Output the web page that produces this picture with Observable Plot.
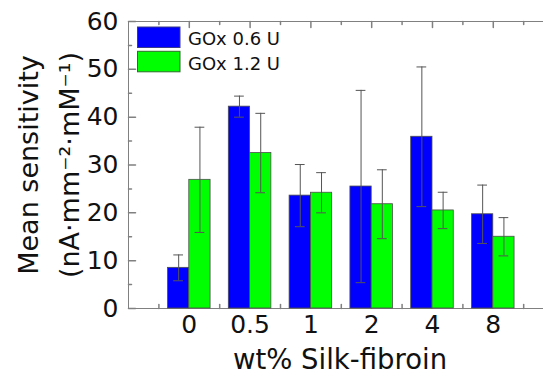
<!DOCTYPE html>
<html>
<head>
<meta charset="utf-8">
<script src="https://cdn.jsdelivr.net/npm/d3@7"></script>
<script src="https://cdn.jsdelivr.net/npm/@observablehq/plot@0.6"></script>
<style>
  body { margin: 0; background: #fff; }
  #chart { width: 543px; height: 376px; }
</style>
</head>
<body>
<div id="chart"></div>
<script>
// Silk-fibroin loading vs. mean sensitivity for two GOx loadings
const concentrations = ["0", "0.5", "1", "2", "4", "8"];
const seriesNames = ["GOx 0.6 U", "GOx 1.2 U"];
const seriesColors = ["#0000ff", "#00ff00"];
const gox06Mean = [8.5, 42.2, 23.6, 25.5, 35.9, 19.7];
const gox06Err = [2.7, 2.2, 6.5, 20.1, 14.6, 6.1];
const gox12Mean = [26.9, 32.5, 24.2, 21.8, 20.5, 15.0];
const gox12Err = [11.0, 8.3, 4.2, 7.2, 3.8, 4.0];
const yMajorTicks = [0, 10, 20, 30, 40, 50, 60];
const yMinorTicks = [5, 15, 25, 35, 45, 55];
const xTitle = "wt% Silk-fibroin";
const yTitle = "Mean sensitivity\n(nA·mm⁻²·mM⁻¹)";

const means = [gox06Mean, gox12Mean];
const errs = [gox06Err, gox12Err];

// group layout in x units (one unit per concentration)
const barW = 0.35;
const capHalf = 0.08;
const xDomain = [-1, 5.826];
const yDomain = [0, 60];

const rows = [];
concentrations.forEach((c, i) => {
  seriesNames.forEach((s, k) => {
    const x1 = k === 0 ? i - barW : i;
    rows.push({
      i, series: s, color: seriesColors[k],
      mean: means[k][i], err: errs[k][i],
      x1, x2: x1 + barW, xc: x1 + barW / 2
    });
  });
});

const groupCenters = concentrations.map((c, i) => i);
const groupEdges = [-0.5, ...concentrations.map((c, i) => i + 0.5)];

// straight tick stroke for vector marks
const tickShape = { draw(ctx, l) { ctx.moveTo(0, 0); ctx.lineTo(0, -l); } };
const axisColor = "#808080";
const errColor = "#555";

const chart = Plot.plot({
  width: 543,
  height: 376,
  marginLeft: 128,
  marginRight: 0,
  marginTop: 21,
  marginBottom: 68,
  style: { fontFamily: "DejaVu Sans", color: "#111", background: "#fff" },
  x: { type: "linear", domain: xDomain },
  y: { domain: yDomain },
  marks: [
    // frame
    Plot.ruleY(yDomain, { stroke: axisColor }),
    Plot.ruleX([xDomain[0]], { y1: yDomain[0], y2: yDomain[1], stroke: axisColor }),
    // inward ticks
    Plot.vector(yMajorTicks, { x: xDomain[0], y: d => d, length: 7, rotate: 90, anchor: "start", shape: tickShape, stroke: axisColor }),
    Plot.vector(yMinorTicks, { x: xDomain[0], y: d => d, length: 3, rotate: 90, anchor: "start", shape: tickShape, stroke: axisColor }),
    Plot.vector(groupEdges, { x: d => d, y: yDomain[0], length: 4, rotate: 0, anchor: "start", shape: tickShape, stroke: axisColor }),
    Plot.vector(groupEdges, { x: d => d, y: yDomain[1], length: 3, rotate: 180, anchor: "start", shape: tickShape, stroke: axisColor }),
    Plot.vector(groupCenters, { x: d => d, y: yDomain[1], length: 6, rotate: 180, anchor: "start", shape: tickShape, stroke: axisColor }),
    // tick labels
    Plot.axisY(yMajorTicks, { tickSize: 0, tickPadding: 10, fontSize: 25, label: null }),
    Plot.axisX(groupCenters, { tickSize: 0, tickPadding: 7, fontSize: 25, label: null, tickFormat: i => concentrations[i] }),
    // bars
    Plot.rectY(rows, { x1: "x1", x2: "x2", y1: 0, y2: "mean", fill: "color", stroke: "#4d4d4d", strokeWidth: 0.8 }),
    // error bars
    Plot.ruleX(rows, { x: "xc", y1: d => d.mean - d.err, y2: d => d.mean + d.err, stroke: errColor, strokeWidth: 1 }),
    Plot.ruleY(rows, { y: d => d.mean + d.err, x1: d => d.xc - capHalf, x2: d => d.xc + capHalf, stroke: errColor, strokeWidth: 1 }),
    Plot.ruleY(rows, { y: d => d.mean - d.err, x1: d => d.xc - capHalf, x2: d => d.xc + capHalf, stroke: errColor, strokeWidth: 1 }),
    // axis titles
    Plot.text([yTitle], { text: d => d, frameAnchor: "left", rotate: -90, dx: -83, fontSize: 27, lineHeight: 1.52, textAnchor: "middle", lineAnchor: "middle", fill: "#111" }),
    Plot.text([xTitle], { text: d => d, frameAnchor: "bottom", lineAnchor: "top", dy: 41, dx: 4, fontSize: 27.5, fill: "#111" })
  ]
});

// legend inside the frame, top-left
const svg = d3.select(chart);
const legend = svg.append("g")
  .attr("font-family", "DejaVu Sans").attr("font-size", 18)
  .attr("fill", "#111").attr("text-anchor", "start");
seriesNames.forEach((name, k) => {
  const top = 27 + k * 24.3;
  legend.append("rect")
    .attr("x", 137.5).attr("y", top).attr("width", 42.5).attr("height", 20.5)
    .attr("fill", seriesColors[k]).attr("stroke", k === 0 ? "#3a3a8a" : "#2f6b2f").attr("stroke-width", 1);
  legend.append("text").attr("x", 188).attr("y", top + 18.3).text(name);
});

document.getElementById("chart").appendChild(chart);
</script>
</body>
</html>
